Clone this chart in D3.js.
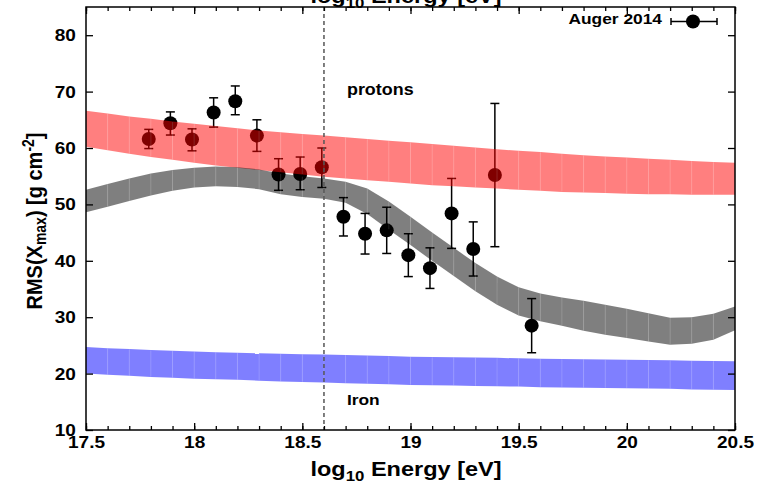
<!DOCTYPE html>
<html>
  <head>
    <script src="https://d3js.org/d3.v7.min.js"></script>
    <style>
      body { margin: 0; background-color: white; }
      text { font-family: 'Liberation Sans', Arial, Helvetica, sans-serif; font-weight: bold; }
    </style>
  </head>
  <body>
    <svg id="canvas" width="765" height="484"></svg>
    <script>
      // Auger 2014 RMS(Xmax) data
      const energy = [17.79, 17.89, 17.99, 18.09, 18.19, 18.29, 18.39, 18.49, 18.59,
                      18.69, 18.79, 18.89, 18.99, 19.09, 19.19, 19.29, 19.39, 19.56]
      const rms    = [61.6, 64.4, 61.5, 66.3, 68.3, 62.2, 55.3, 55.4, 56.6,
                      47.8, 44.8, 45.4, 41.0, 38.7, 48.4, 42.1, 55.2, 28.5]
      const errHi  = [63.3, 66.4, 63.4, 68.9, 71.0, 65.0, 58.1, 58.4, 60.0,
                      51.2, 48.4, 49.5, 44.8, 42.3, 54.6, 46.9, 67.9, 33.3]
      const errLo  = [59.9, 62.3, 59.5, 63.7, 65.9, 59.4, 52.5, 52.6, 53.0,
                      44.4, 41.2, 41.3, 37.2, 35.1, 42.2, 37.3, 42.5, 23.7]

      // model bands on a 0.1 grid in log10 E
      const bandE = [17.5, 17.6, 17.7, 17.8, 17.9, 18.0, 18.1, 18.2, 18.3, 18.4, 18.5,
                     18.6, 18.7, 18.8, 18.9, 19.0, 19.1, 19.2, 19.3, 19.4, 19.5,
                     19.6, 19.7, 19.8, 19.9, 20.0, 20.1, 20.2, 20.3, 20.4, 20.5]
      const protonHi = [66.6, 66.1, 65.6, 65.2, 64.7, 64.3, 63.9, 63.5, 63.1, 62.8, 62.5,
                        62.2, 61.9, 61.6, 61.3, 61.0, 60.7, 60.4, 60.1, 59.8, 59.5,
                        59.3, 59.0, 58.7, 58.5, 58.3, 58.1, 57.9, 57.7, 57.5, 57.4]
      const protonLo = [60.2, 59.6, 59.0, 58.4, 57.9, 57.4, 56.9, 56.5, 56.1, 55.7, 55.3,
                        54.9, 54.6, 54.3, 54.0, 53.7, 53.4, 53.2, 53.0, 52.8, 52.6,
                        52.4, 52.2, 52.1, 52.0, 51.9, 51.8, 51.8, 51.7, 51.7, 51.7]
      const mixHi = [52.6, 53.6, 54.6, 55.5, 56.1, 56.5, 56.7, 56.6, 56.2, 55.5, 55.0,
                     54.6, 54.0, 52.8, 50.5, 47.8, 45.0, 42.3, 39.6, 37.2, 35.3,
                     34.2, 33.5, 32.9, 32.2, 31.5, 30.7, 29.9, 30.0, 30.6, 31.9]
      const mixLo = [48.6, 49.6, 50.6, 51.6, 52.4, 53.0, 53.2, 53.1, 52.7, 51.8, 51.3,
                     51.0, 50.3, 48.3, 45.5, 42.8, 40.0, 37.3, 34.6, 32.2, 30.3,
                     29.3, 28.5, 27.6, 26.9, 26.3, 25.7, 25.1, 25.3, 26.0, 27.7]
      const ironHi = [24.7, 24.5, 24.35, 24.2, 24.05, 23.9, 23.8, 23.7, 23.6, 23.5, 23.45,
                      23.4, 23.3, 23.2, 23.1, 23.0, 22.95, 22.9, 22.85, 22.8, 22.7,
                      22.65, 22.6, 22.55, 22.5, 22.45, 22.4, 22.35, 22.3, 22.25, 22.2]
      const ironLo = [20.0, 19.8, 19.6, 19.4, 19.25, 19.1, 19.0, 18.9, 18.75, 18.6, 18.5,
                      18.4, 18.3, 18.2, 18.1, 18.0, 17.95, 17.9, 17.8, 17.75, 17.7,
                      17.6, 17.55, 17.5, 17.45, 17.4, 17.35, 17.3, 17.2, 17.15, 17.1]

      const xMajor = [17.5, 18, 18.5, 19, 19.5, 20, 20.5]
      const xMinor = bandE
      const yMajor = [10, 20, 30, 40, 50, 60, 70, 80]
      const ankle = 18.6

      const sx = 1.12  // the original picture is a bit stretched sideways

      const svg = d3.select('#canvas')
      const pLeft = 86, pRight = 735, pTop = 7, pBottom = 430

      const x = d3.scaleLinear().domain([17.5, 20.5]).range([pLeft, pRight])
      const y = d3.scaleLinear().domain([10, 85]).range([pBottom, pTop])

      const plot = svg.append('g')

      // data points go first, the bands are laid over them half transparent
      const pts = plot.append('g')
      energy.forEach((e, i) => {
        pts.append('line')
          .attr('x1', x(e)).attr('x2', x(e))
          .attr('y1', y(errLo[i])).attr('y2', y(errHi[i]))
          .attr('stroke', 'black').attr('stroke-width', 1.5)
        ;[errLo[i], errHi[i]].forEach(v => {
          pts.append('line')
            .attr('x1', x(e) - 4.5).attr('x2', x(e) + 4.5)
            .attr('y1', y(v)).attr('y2', y(v))
            .attr('stroke', 'black').attr('stroke-width', 1.5)
        })
      })
      pts.selectAll('circle').data(energy).enter()
        .append('circle')
          .attr('cx', d => x(d))
          .attr('cy', (d, i) => y(rms[i]))
          .attr('r', 7)
          .attr('fill', 'black')

      // bands, one quad per 0.1 step
      const drawBand = (hi, lo, color) => {
        const b = plot.append('g')
        for (let i = 0; i < bandE.length - 1; i++) {
          const q = [
            [x(bandE[i]), y(hi[i])], [x(bandE[i + 1]), y(hi[i + 1])],
            [x(bandE[i + 1]), y(lo[i + 1])], [x(bandE[i]), y(lo[i])]
          ]
          b.append('path')
            .attr('d', 'M' + q.join('L') + 'Z')
            .attr('fill', color)
            .attr('fill-opacity', 0.5)
          if (i > 0) {
            b.append('line')
              .attr('x1', x(bandE[i])).attr('x2', x(bandE[i]))
              .attr('y1', y(hi[i]) + 0.5).attr('y2', y(lo[i]) - 0.5)
              .attr('stroke', 'white').attr('stroke-opacity', 0.2).attr('stroke-width', 0.7)
          }
        }
      }
      drawBand(protonHi, protonLo, '#ff0000')
      drawBand(mixHi, mixLo, '#000000')
      drawBand(ironHi, ironLo, '#0000ff')

      // dashed line at the ankle
      plot.append('line')
        .attr('x1', x(ankle)).attr('x2', x(ankle))
        .attr('y1', pTop).attr('y2', pBottom)
        .attr('stroke', '#555').attr('stroke-width', 1.5)
        .attr('stroke-dasharray', '4,3')

      // axes, ticks pointing inward
      const axisStyle = g => {
        g.select('.domain').remove()
        g.selectAll('line').attr('stroke', 'black').attr('stroke-width', 1.3)
        g.selectAll('text').attr('font-size', 17).attr('fill', 'black')
          .attr('font-family', "'Liberation Sans', Arial, sans-serif").attr('font-weight', 'bold')
          .attr('transform', `scale(${sx},1)`)
      }
      svg.append('g').attr('transform', `translate(0,${pBottom})`)
        .call(d3.axisBottom(x).tickValues(xMinor).tickSize(-4).tickFormat(''))
        .call(axisStyle)
      svg.append('g').attr('transform', `translate(0,${pBottom})`)
        .call(d3.axisBottom(x).tickValues(xMajor).tickSize(-7).tickPadding(6)
          .tickFormat(d3.format('')))
        .call(axisStyle)
      svg.append('g').attr('transform', `translate(0,${pTop})`)
        .call(d3.axisTop(x).tickValues(xMinor).tickSize(-4).tickFormat(''))
        .call(axisStyle)
      svg.append('g').attr('transform', `translate(0,${pTop})`)
        .call(d3.axisTop(x).tickValues(xMajor).tickSize(-7).tickFormat(''))
        .call(axisStyle)
      svg.append('g').attr('transform', `translate(${pLeft},0)`)
        .call(d3.axisLeft(y).tickValues(yMajor).tickSize(-7).tickPadding(9))
        .call(axisStyle)
      svg.append('g').attr('transform', `translate(${pRight},0)`)
        .call(d3.axisRight(y).tickValues(yMajor).tickSize(-7).tickFormat(''))
        .call(axisStyle)

      // frame
      svg.append('rect')
        .attr('x', pLeft).attr('y', pTop)
        .attr('width', pRight - pLeft).attr('height', pBottom - pTop)
        .attr('fill', 'none').attr('stroke', 'black').attr('stroke-width', 1.5)

      // labels
      const label = (tx, ty, size, anchor) => svg.append('text')
        .attr('transform', `translate(${tx},${ty}) scale(${sx},1)`)
        .attr('font-size', size)
        .attr('text-anchor', anchor)

      label(x(ankle) + 23, 95, 16, 'start').text('protons')
      label(x(ankle) + 23, 405, 15.5, 'start').text('Iron')
      label(662, 24, 15.5, 'end').text('Auger 2014')

      // legend marker
      svg.append('line').attr('x1', 671).attr('x2', 717).attr('y1', 21.5).attr('y2', 21.5)
        .attr('stroke', 'black').attr('stroke-width', 1.5)
      ;[671, 717].forEach(v => svg.append('line')
        .attr('x1', v).attr('x2', v).attr('y1', 18).attr('y2', 25)
        .attr('stroke', 'black').attr('stroke-width', 1.5))
      svg.append('circle').attr('cx', 693).attr('cy', 21.5).attr('r', 7).attr('fill', 'black')

      // axis titles (the x title also shows, clipped, above the frame)
      const xTitle = ty => {
        const t = label(406, ty, 21, 'middle')
        t.append('tspan').text('log')
        t.append('tspan').attr('font-size', 15).attr('dy', 5).text('10')
        t.append('tspan').attr('dy', -5).text(' Energy [eV]')
      }
      xTitle(476)
      xTitle(3)

      const yt = svg.append('text')
        .attr('transform', `translate(42,221) scale(${sx},1) rotate(-90)`)
        .attr('font-size', 20)
        .attr('text-anchor', 'middle')
      yt.append('tspan').text('RMS(X')
      yt.append('tspan').attr('font-size', 14).attr('dy', 4).text('max')
      yt.append('tspan').attr('dy', -4).text(') [g cm')
      yt.append('tspan').attr('font-size', 14).attr('dy', -7).text('-2')
      yt.append('tspan').attr('dy', 7).text(']')
    </script>
  </body>
</html>
